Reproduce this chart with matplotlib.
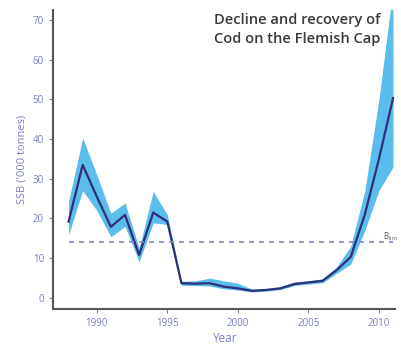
import matplotlib.pyplot as plt

years = list(range(1988, 2012))
ssb = [19.2, 33.5, 25.5, 17.9, 20.9, 10.8, 21.5, 19.2, 3.7, 3.6, 3.7, 2.85,
       2.4, 1.8, 2.0, 2.4, 3.5, 3.9, 4.3, 7.0, 10.3, 21.0, 35.0, 50.3]
ssb_low = [15.9, 27.0, 22.0, 15.4, 18.0, 9.1, 18.9, 18.5, 3.2, 3.1, 3.0, 2.3,
           2.0, 1.5, 1.7, 2.1, 3.1, 3.5, 3.8, 6.2, 8.5, 17.0, 27.0, 33.0]
ssb_high = [24.3, 40.3, 31.0, 21.3, 23.9, 12.5, 26.8, 20.9, 4.2, 4.3, 5.0, 4.3,
            3.7, 2.2, 2.4, 2.8, 4.0, 4.3, 4.8, 7.8, 13.0, 27.0, 50.0, 78.0]
b_lim = 14
xticks = [1990, 1995, 2000, 2005, 2010]
yticks = [0, 10, 20, 30, 40, 50, 60, 70]

label_col = '#7a7fc2'

plt.rcParams['font.family'] = ['Open Sans', 'DejaVu Sans']

fig = plt.figure(figsize=(4.02, 3.52), dpi=100)
ax = fig.add_axes([0.132, 0.122, 0.851, 0.851])

ax.fill_between(years, ssb_low, ssb_high, color='#5bbdeb', lw=0)
ax.plot(years, ssb, color='#2e2f78', lw=1.6)
ax.hlines(b_lim, years[0], years[-1], colors='#8088c0', linestyles=(0, (3, 3)), lw=1.2)
ax.text(2010.3, b_lim + 0.6, r'$\mathrm{B_{lim}}$', fontsize=5.5, color='#666666')

ax.set_xlim(1986.9, 2011.15)
ax.set_ylim(-2.8, 72.6)
ax.set_xticks(xticks)
ax.set_yticks(yticks)
ax.tick_params(axis='both', labelsize=7, colors='#888888', labelcolor=label_col,
               length=3, width=0.8, direction='out')

for side in ['top', 'right']:
    ax.spines[side].set_visible(False)
for side in ['left', 'bottom']:
    ax.spines[side].set_color('#555555')
    ax.spines[side].set_linewidth(1.5)

ax.set_xlabel('Year', fontsize=8.5, color=label_col, labelpad=2)
ax.set_ylabel("SSB ('000 tonnes)", fontsize=8, color=label_col, labelpad=4)

fig.text(0.74, 0.915, 'Decline and recovery of\nCod on the Flemish Cap',
         fontsize=10.5, fontweight='semibold', color='#3a3a3a',
         ha='center', va='center', linespacing=1.45)

fig.savefig('out.png', dpi=100)
